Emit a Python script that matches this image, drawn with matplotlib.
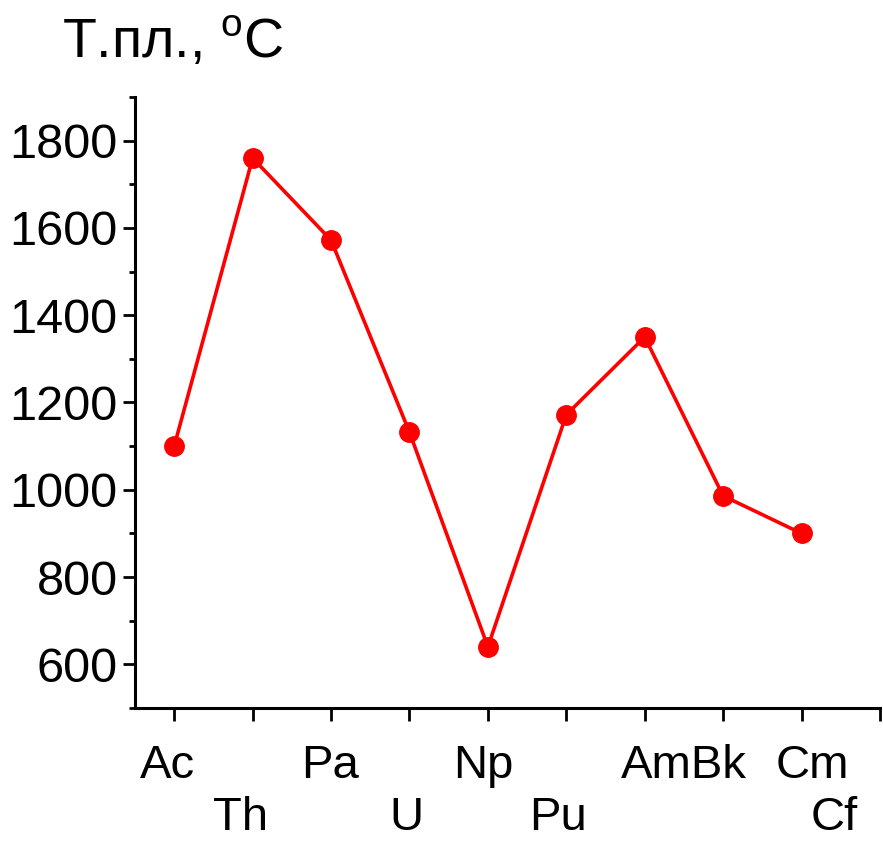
import matplotlib
matplotlib.use("Agg")
import matplotlib.pyplot as plt
import matplotlib.transforms as mtransforms
from matplotlib.ticker import MultipleLocator, FixedLocator, NullFormatter

plt.rcParams['font.family'] = ['Liberation Sans', 'DejaVu Sans']

# Data
positions = [1, 2, 3, 4, 5, 6, 7, 8, 9]
melting_points = [1100, 1760, 1572, 1132, 640, 1172, 1350, 986, 900]
label_texts = ["Ac", "Th", "Pa", "U", "Np", "Pu", "AmBk", "Cm", "Cf"]
label_x = [0.91, 1.85, 2.99, 3.96, 4.94, 5.89, 7.5, 9.14, 9.42]
label_row = [0, 1, 0, 1, 0, 1, 0, 0, 1]
ylabel_text = "Т.пл., $^\\mathregular{o}$C"

fig = plt.figure(figsize=(8.83, 8.43), dpi=100)
ax = fig.add_axes([135/883, 1-708/843, (880-135)/883, (708-97)/843])

ax.plot(positions, melting_points, color='#ff0000', lw=2.6, marker='o',
        markersize=14, markerfacecolor='#ff0000', markeredgecolor='#ff0000')

ax.set_xlim(0.5, 10)
ax.set_ylim(500, 1900)

for s in ['top', 'right']:
    ax.spines[s].set_visible(False)
for s in ['left', 'bottom']:
    ax.spines[s].set_linewidth(2.2)

ax.yaxis.set_major_locator(MultipleLocator(200))
ax.yaxis.set_minor_locator(MultipleLocator(100))
ax.xaxis.set_major_locator(FixedLocator(list(range(1, 11))))
ax.xaxis.set_major_formatter(NullFormatter())
ax.set_yticks([600, 800, 1000, 1200, 1400, 1600, 1800])
ax.tick_params(axis='y', which='major', direction='out', length=8.5, width=2, labelsize=35, pad=4)
ax.tick_params(axis='y', which='minor', direction='out', length=4, width=2)
ax.tick_params(axis='x', which='major', direction='out', length=9, width=2)

trans = mtransforms.blended_transform_factory(ax.transData, fig.transFigure)
for txt, xx, row in zip(label_texts, label_x, label_row):
    yfig = 1 - (778/843 if row == 0 else 830/843)
    ax.text(xx, yfig, txt, transform=trans, ha='center', va='baseline', fontsize=34)

fig.text(62/883, 1-57/843, ylabel_text, ha='left', va='baseline', fontsize=40)

fig.savefig("out.png", dpi=100)
